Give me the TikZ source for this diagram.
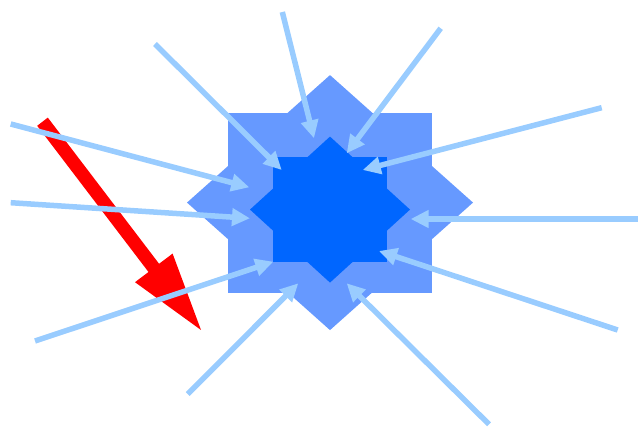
\documentclass[tikz,border=0pt]{standalone}
\usetikzlibrary{arrows.meta}
\definecolor{outerblue}{HTML}{6699FF}
\definecolor{innerblue}{HTML}{0066FF}
\definecolor{rayblue}{HTML}{99CCFF}
\definecolor{bigred}{HTML}{FF0000}
\tikzset{
  ray/.style={draw=rayblue, line width=5.5pt, -{Triangle[length=18pt,width=17pt]}},
}
\begin{document}
\begin{tikzpicture}[x=1pt,y=-1pt]
\useasboundingbox (0,0) rectangle (638,427);
% red arrow
\fill[bigred] (47.8,117.6) -- (159.1,263.8) -- (172.6,253.6) -- (201,330) -- (135.0,282.2) -- (148.5,272.0) -- (37.2,125.8) -- cycle;
% outer star
\fill[outerblue] (228,112.6) rectangle (432,292.6);
\fill[outerblue] (187,202.6) -- (330,75.1) -- (473,202.6) -- (330,330.1) -- cycle;
% inner star
\fill[innerblue] (273.3,157.4) rectangle (386.7,261.8);
\fill[innerblue] (250,209.6) -- (330,136.6) -- (410,209.6) -- (330,282.6) -- cycle;
% ray endpoints
\coordinate (s1) at (155,44);    \coordinate (t1) at (281.7,170);
\coordinate (s2) at (282.3,12);  \coordinate (t2) at (314,138.3);
\coordinate (s3) at (440.7,28.3);\coordinate (t3) at (346.7,153.3);
\coordinate (s4) at (601.7,107.7);\coordinate (t4) at (362.7,170);
\coordinate (s5) at (640,219);   \coordinate (t5) at (410.7,219);
\coordinate (s6) at (617.7,330); \coordinate (t6) at (379,251);
\coordinate (s7) at (489,424.3); \coordinate (t7) at (346.7,283.3);
\coordinate (s8) at (187.7,394); \coordinate (t8) at (298.3,283.3);
\coordinate (s9) at (35,341);    \coordinate (t9) at (273.3,261.7);
\coordinate (s10) at (10.7,202.7);\coordinate (t10) at (250,218.3);
\coordinate (s11) at (10.7,124); \coordinate (t11) at (249.3,187.3);
\foreach \i in {1,...,11} {\draw[ray] (s\i) -- (t\i);}
\end{tikzpicture}
\end{document}
